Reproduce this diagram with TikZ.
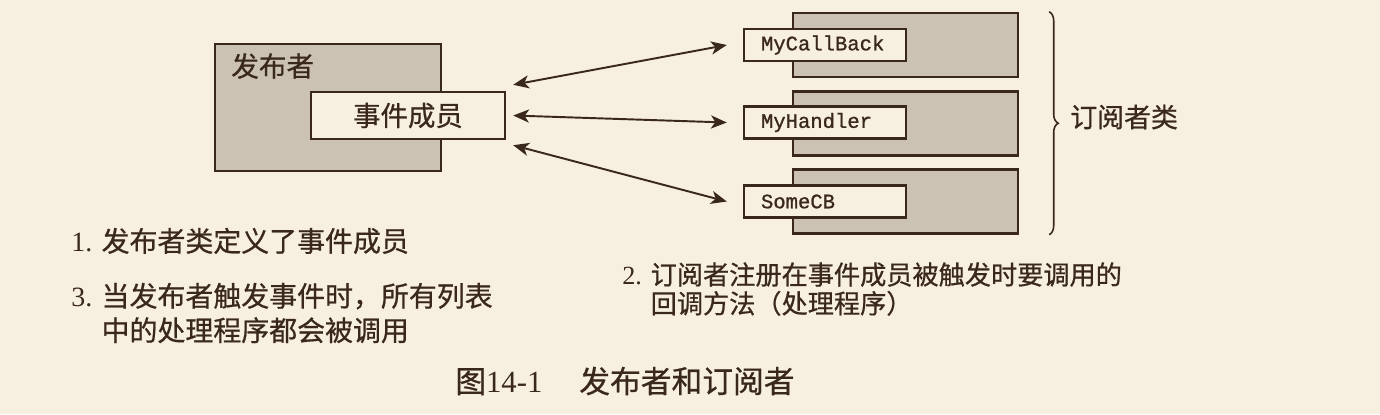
\documentclass[tikz,border=0pt]{standalone}
\usepackage{fontspec}
\setmainfont{Liberation Serif}
\setmonofont[FakeBold=1]{Liberation Mono}
\newfontfamily\cjk[FakeBold=0.7]{Noto Sans CJK SC}
\usetikzlibrary{positioning,arrows.meta,decorations.pathreplacing}
\definecolor{paper}{RGB}{247,240,225}
\definecolor{ink}{RGB}{58,40,30}
\definecolor{shade}{RGB}{203,194,180}

\begin{document}
\begin{tikzpicture}[x=0.02cm,y=-0.02cm]
\tikzstyle{every node}+=[inner sep=0pt,text=ink]
\tikzstyle{greybox}=[draw=ink,line width=1.4pt,fill=shade]
\tikzstyle{whitebox}=[draw=ink,line width=1.4pt,fill=paper]
\tikzstyle{cbbox}=[whitebox,minimum height=0.64cm,text width=2.56cm,inner xsep=0.34cm,align=left,font=\ttfamily\fontsize{11.7}{13}\selectfont]
\tikzstyle{link}=[draw=ink,line width=1.1pt,{Stealth[length=9pt,width=7.5pt,inset=2.5pt]}-{Stealth[length=9pt,width=7.5pt,inset=2.5pt]}]
\tikzstyle{note}=[align=left,anchor=north west]
\fill[paper] (0,0) rectangle (1380,414);
\useasboundingbox (0,0) rectangle (1380,414);
\node[greybox,minimum width=4.52cm,minimum height=2.54cm] (pub) at (328,107.5) {};
\node[anchor=west,font=\cjk\fontsize{15.7}{17}\selectfont] (publbl) at (231,66) {发布者};
\node[whitebox,minimum width=3.88cm,minimum height=0.94cm,font=\cjk\fontsize{15.6}{17}\selectfont] (ev) at (408,115.5) {事件成员};
\node[greybox,minimum width=4.5cm,minimum height=1.28cm] (s1) at (905.5,45) {};
\node[greybox,minimum width=4.5cm,minimum height=1.28cm] (s2) at (905.5,123.5) {};
\node[greybox,minimum width=4.5cm,minimum height=1.28cm] (s3) at (905.5,201.5) {};
\node[cbbox] (cb1) at (825,45) {MyCallBack};
\node[cbbox] (cb2) at (825,122.5) {MyHandler};
\node[cbbox] (cb3) at (825,201.5) {SomeCB};
\draw[link] ([shift={(7,-6)}]ev.north east) -- ([shift={(-16,0)}]cb1.west);
\draw[link] ([shift={(7,0)}]ev.east) -- ([shift={(-16,0)}]cb2.west);
\draw[link] ([shift={(7,5)}]ev.south east) -- ([shift={(-16,0)}]cb3.west);
\draw[draw=ink,line width=0.9pt,decorate,decoration={brace,amplitude=0.18cm}] ([shift={(30,0)}]s1.north east) -- ([shift={(30,0)}]s3.south east);
\node[anchor=west,font=\cjk\fontsize{15.3}{17}\selectfont] (subcls) at (1070,117) {订阅者类};
\node[note,font=\fontsize{15.9}{17}\selectfont] (step1) at (71,227.5) {1. {\cjk 发布者类定义了事件成员}};
\node[note,font=\fontsize{15.9}{19.6}\selectfont] (step3) at (71,282.5) {3. {\cjk 当发布者触发事件时，所有列表}\\\hphantom{3. }{\cjk 中的处理程序都会被调用}};
\node[note,font=\fontsize{14.9}{16.4}\selectfont] (step2) at (622,262) {2. {\cjk 订阅者注册在事件成员被触发时要调用的}\\\hphantom{2. }{\cjk 回调方法（处理程序）}};
\node[anchor=west,font=\fontsize{17.5}{19}\selectfont] (caption) at (455,381) {{\cjk 图}14-1\hspace{1.2em}{\cjk 发布者和订阅者}};
\end{tikzpicture}
\end{document}
